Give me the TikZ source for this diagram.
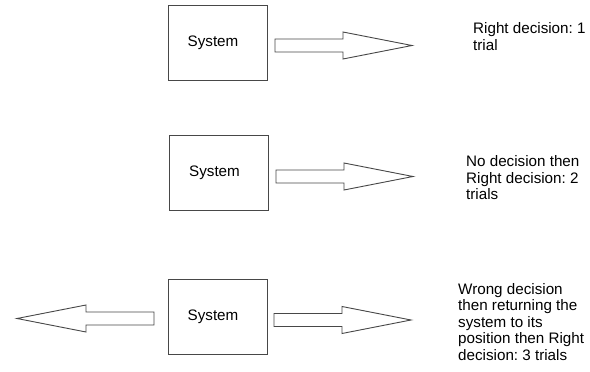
\documentclass[tikz,border=0pt]{standalone}
\usepackage{fontspec}
\setmainfont{Liberation Sans}
\frenchspacing
\begin{document}
\begin{tikzpicture}[x=1pt,y=-1pt,
  every node/.style={font=\fontsize{15.2}{16.5}\selectfont},
  sysbox/.style={draw=black!72, line width=0.9pt, minimum width=99pt,
    minimum height=75pt, inner sep=0pt, fill=white},
  note/.style={anchor=north west, align=left, inner sep=0pt},
  blockarrow/.pic={
    \draw[draw=black!72, line width=0.9pt, line join=miter, fill=white]
      (0,-6.5) -- (68,-6.5) -- (68,-13.5) -- (137,0) -- (68,13.5)
      -- (68,6.5) -- (0,6.5) -- cycle;
  }]
  \useasboundingbox (0,0) rectangle (590,372);

  % the three systems (label sits a little left of centre)
  \node[sysbox] (sysA) at (217.5,42.5) {System\kern9pt\null};
  \node[sysbox] (sysB) at (219,172.5)  {System\kern9pt\null};
  \node[sysbox] (sysC) at (217.5,316.5) {System\kern9pt\null};

  % outgoing block arrows
  \pic at (275,45.5)  {blockarrow};
  \pic at (276,176.5) {blockarrow};
  \pic at (274,320)   {blockarrow};
  \pic[rotate=180] at (154,318.5) {blockarrow};

  % outcomes
  \node[note] (outA) at (473,22.4) {Right decision: 1\\trial};
  \node[note] (outB) at (466,155.6) {No decision then\\Right decision: 2\\trials};
  \node[note] (outC) at (458,283) {Wrong decision\\then returning the\\system to its\\position then Right\\decision: 3 trials};
\end{tikzpicture}
\end{document}
